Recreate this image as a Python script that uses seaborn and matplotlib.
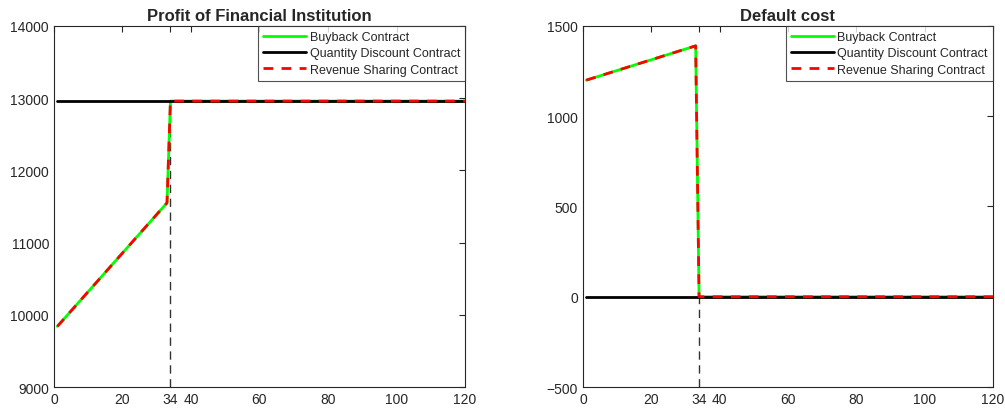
import numpy as np
import pandas as pd
import seaborn as sns
import matplotlib.pyplot as plt

# data
x_keys = [1, 33, 34, 120]
profit_buyback = [9840, 11550, 12960, 12960]
profit_revenue = [9840, 11550, 12960, 12960]
profit_quantity = [12960, 12960, 12960, 12960]
cost_buyback = [1200, 1390, 0, 0]
cost_revenue = [1200, 1390, 0, 0]
cost_quantity = [0, 0, 0, 0]
x_ticks = [0, 20, 34, 40, 60, 80, 100, 120]
breakpoint_x = 34

sns.set_style("white")
plt.rcParams['font.family'] = ['Liberation Sans', 'DejaVu Sans']

fig = plt.figure(figsize=(10.05, 4.14), dpi=100)
ax1 = fig.add_axes([0.0537, 0.0628, 0.409, 0.872])
ax2 = fig.add_axes([0.580, 0.0628, 0.408, 0.872])


def draw(ax, buy, qty, rev, ylim, yticks, title):
    df = pd.DataFrame({"x": x_keys, "buy": buy, "qty": qty, "rev": rev})
    ax.plot([breakpoint_x, breakpoint_x], [ylim[0], buy[2]], color="#333333",
            linestyle=(0, (6, 4)), linewidth=1.0, zorder=1)
    sns.lineplot(data=df, x="x", y="buy", ax=ax, color="#00ff00", linewidth=2,
                 label="Buyback Contract", zorder=2)
    sns.lineplot(data=df, x="x", y="qty", ax=ax, color="black", linewidth=2,
                 label="Quantity Discount Contract", zorder=3)
    sns.lineplot(data=df, x="x", y="rev", ax=ax, color="red", linewidth=2,
                 linestyle=(0, (3.5, 3)), label="Revenue Sharing Contract", zorder=4)
    ax.set_xlim(0, 120)
    ax.set_ylim(*ylim)
    ax.set_xticks(x_ticks)
    ax.set_yticks(yticks)
    ax.set_xlabel("")
    ax.set_ylabel("")
    ax.set_title(title, fontweight="bold", fontsize=12, pad=4)
    ax.tick_params(direction="in", top=True, right=True, length=4,
                   labelsize=10, colors="#262626", width=0.8)
    for s in ax.spines.values():
        s.set_color("#262626")
        s.set_linewidth(0.8)
    leg = ax.legend(loc="upper right", fontsize=9, frameon=True, fancybox=False,
                    borderpad=0.4, labelspacing=0.35, handlelength=3.4,
                    handletextpad=0.3, borderaxespad=0.0)
    leg.get_frame().set_edgecolor("#262626")
    leg.get_frame().set_linewidth(0.8)


draw(ax1, profit_buyback, profit_quantity, profit_revenue, (9000, 14000),
     [9000, 10000, 11000, 12000, 13000, 14000], "Profit of Financial Institution")
draw(ax2, cost_buyback, cost_quantity, cost_revenue, (-500, 1500),
     [-500, 0, 500, 1000, 1500], "Default cost")

fig.savefig("out.png", dpi=100)
